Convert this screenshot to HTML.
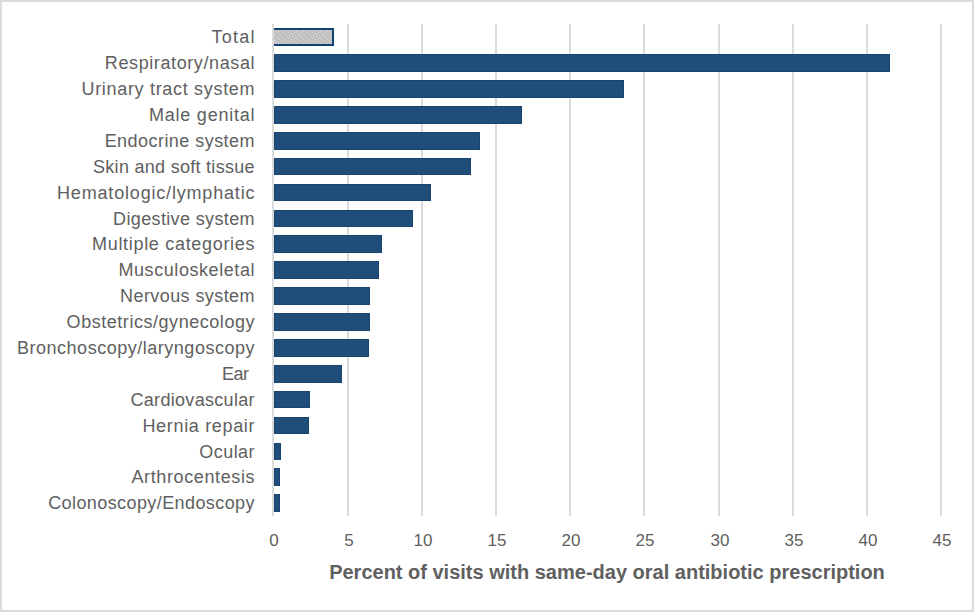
<!DOCTYPE html><html><head><meta charset="utf-8"><style>
*{margin:0;padding:0;box-sizing:border-box}
html,body{width:974px;height:612px;background:#fff;overflow:hidden}
body{position:relative;font-family:"Liberation Sans",sans-serif;color:#606060}
.frame{position:absolute;left:0;top:0;width:974px;height:612px;border:2px solid #dadada}
.g{position:absolute;top:24px;width:2px;height:492px;background-color:#dfdfdf;background-image:repeating-linear-gradient(#dfdfdf 0 1px,#cdcdcd 1px 2px,#dfdfdf 2px 4px),repeating-linear-gradient(#dfdfdf 0 3px,#cdcdcd 3px 4px);background-size:1px 100%,1px 100%;background-position:1px 0,0 0;background-repeat:no-repeat}
.b{position:absolute;left:274px;height:18px;background:#1f4e79;border:1px solid #174470}
.tot{position:absolute;left:274px;height:18px}
.l{position:absolute;right:719.5px;font-size:18px;line-height:18px;height:18px;white-space:pre;text-align:right}
.t{position:absolute;font-size:17px;line-height:20px;width:60px;text-align:center;top:531px}
.title{position:absolute;left:272px;width:670px;text-align:center;font-weight:bold;font-size:20px;line-height:24px;top:560px;letter-spacing:0px;white-space:nowrap}
</style></head><body>
<div class="frame"></div>
<div class="g" style="left:272px"></div>
<div class="g" style="left:347px"></div>
<div class="g" style="left:421px"></div>
<div class="g" style="left:495px"></div>
<div class="g" style="left:569px"></div>
<div class="g" style="left:643px"></div>
<div class="g" style="left:718px"></div>
<div class="g" style="left:792px"></div>
<div class="g" style="left:866px"></div>
<div class="g" style="left:940px"></div>
<svg class="tot" style="top:28px" width="60" height="18" shape-rendering="crispEdges"><defs><pattern id="dp" width="6" height="6" patternUnits="userSpaceOnUse"><rect width="6" height="6" fill="#bfbfbf"/><g fill="#dcdcdc"><rect x="0" y="0" width="1" height="1"/><rect x="3" y="1" width="1" height="1"/><rect x="1" y="2" width="1" height="1"/><rect x="4" y="3" width="1" height="1"/><rect x="2" y="4" width="1" height="1"/><rect x="5" y="5" width="1" height="1"/></g></pattern></defs><rect x="0" y="0" width="60" height="18" fill="#0f4275"/><rect x="0" y="2" width="58" height="14" fill="url(#dp)"/><rect x="0" y="2" width="58" height="1" fill="#cac6c2"/></svg>
<div class="b" style="top:54px;width:616px;height:18px"></div>
<div class="b" style="top:80px;width:350px;height:18px"></div>
<div class="b" style="top:106px;width:248px;height:18px"></div>
<div class="b" style="top:132px;width:206px;height:18px"></div>
<div class="b" style="top:158px;width:197px;height:17px"></div>
<div class="b" style="top:184px;width:157px;height:17px"></div>
<div class="b" style="top:210px;width:139px;height:17px"></div>
<div class="b" style="top:235px;width:108px;height:18px"></div>
<div class="b" style="top:261px;width:105px;height:18px"></div>
<div class="b" style="top:287px;width:96px;height:18px"></div>
<div class="b" style="top:313px;width:96px;height:18px"></div>
<div class="b" style="top:339px;width:95px;height:18px"></div>
<div class="b" style="top:365px;width:68px;height:18px"></div>
<div class="b" style="top:391px;width:36px;height:17px"></div>
<div class="b" style="top:417px;width:35px;height:17px"></div>
<div class="b" style="top:443px;width:7px;height:17px"></div>
<div class="b" style="top:468px;width:6px;height:18px"></div>
<div class="b" style="top:494px;width:6px;height:18px"></div>
<div class="l" style="top:28px;letter-spacing:1.25px;right:718.250px">Total</div>
<div class="l" style="top:54px;letter-spacing:0.601px;right:718.899px">Respiratory/nasal</div>
<div class="l" style="top:80px;letter-spacing:0.684px;right:718.816px">Urinary tract system</div>
<div class="l" style="top:106px;letter-spacing:0.764px;right:718.736px">Male genital</div>
<div class="l" style="top:132px;letter-spacing:0.453px;right:719.047px">Endocrine system</div>
<div class="l" style="top:158px;letter-spacing:0.284px;right:719.216px">Skin and soft tissue</div>
<div class="l" style="top:184px;letter-spacing:0.82px;right:718.680px">Hematologic/lymphatic</div>
<div class="l" style="top:210px;letter-spacing:0.36px;right:719.140px">Digestive system</div>
<div class="l" style="top:235px;letter-spacing:0.689px;right:718.811px">Multiple categories</div>
<div class="l" style="top:261px;letter-spacing:0.571px;right:718.929px">Musculoskeletal</div>
<div class="l" style="top:287px;letter-spacing:0.415px;right:719.085px">Nervous system</div>
<div class="l" style="top:313px;letter-spacing:0.54px;right:718.960px">Obstetrics/gynecology</div>
<div class="l" style="top:339px;letter-spacing:0.517px;right:718.983px">Bronchoscopy/laryngoscopy</div>
<div class="l" style="top:365px;letter-spacing:-0.5px;right:721.000px">Ear </div>
<div class="l" style="top:391px;letter-spacing:0.307px;right:719.193px">Cardiovascular</div>
<div class="l" style="top:417px;letter-spacing:0.667px;right:718.833px">Hernia repair</div>
<div class="l" style="top:443px;letter-spacing:0.44px;right:719.060px">Ocular</div>
<div class="l" style="top:468px;letter-spacing:0.615px;right:718.885px">Arthrocentesis</div>
<div class="l" style="top:494px;letter-spacing:0.41px;right:719.090px">Colonoscopy/Endoscopy</div>
<div class="t" style="left:244px">0</div>
<div class="t" style="left:319px">5</div>
<div class="t" style="left:393px">10</div>
<div class="t" style="left:467px">15</div>
<div class="t" style="left:541px">20</div>
<div class="t" style="left:615px">25</div>
<div class="t" style="left:690px">30</div>
<div class="t" style="left:764px">35</div>
<div class="t" style="left:838px">40</div>
<div class="t" style="left:912px">45</div>
<div class="title">Percent of visits with same-day oral antibiotic prescription</div>
</body></html>
